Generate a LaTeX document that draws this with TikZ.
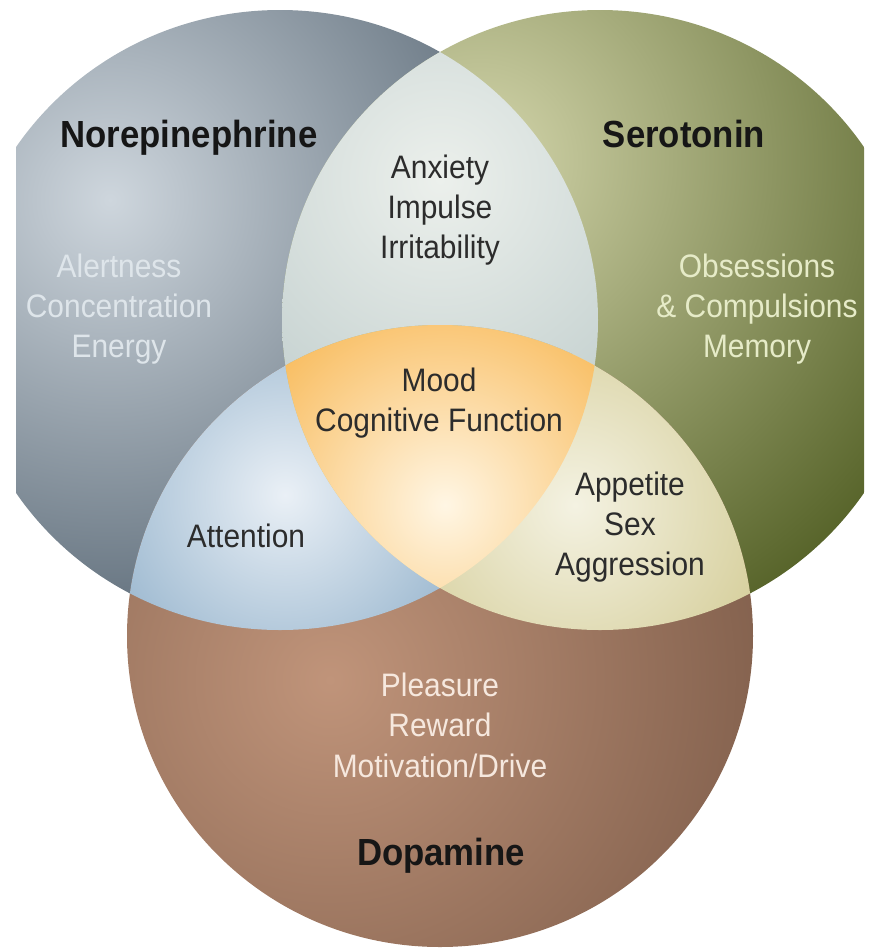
\documentclass[tikz,border=0pt]{standalone}
\usepackage{fontspec}
\setmainfont{Liberation Sans}[FakeStretch=0.92]
\usepackage{tikz}

\begin{document}
\begin{tikzpicture}[x=0.02cm,y=-0.02cm,
    	 every node/.style={align=center,font=\fontsize{18.5}{23}\selectfont},
    	 title node/.style={font=\fontsize{21.5}{26}\selectfont\bfseries,text=titleblack},
    	 dark node/.style={text=textgray},
    	 pale node/.style={text=#1}]

	\definecolor{titleblack}{RGB}{22,22,22}
	\definecolor{textgray}{RGB}{44,44,44}
	\definecolor{nlight}{RGB}{206,214,221}
	\definecolor{ndark}{RGB}{70,86,100}
	\definecolor{slight}{RGB}{212,214,172}
	\definecolor{sdark}{RGB}{72,86,26}
	\definecolor{dlight}{RGB}{192,148,122}
	\definecolor{ddark}{RGB}{118,86,68}
	\definecolor{nslight}{RGB}{236,240,236}
	\definecolor{nsdark}{RGB}{180,196,196}
	\definecolor{ndlight}{RGB}{234,240,246}
	\definecolor{nddark}{RGB}{108,150,184}
	\definecolor{sdlight}{RGB}{244,242,226}
	\definecolor{sddark}{RGB}{198,188,118}
	\definecolor{alllight}{RGB}{255,246,228}
	\definecolor{alldark}{RGB}{246,168,48}
	\definecolor{palegray}{RGB}{222,229,234}
	\definecolor{paleolive}{RGB}{230,235,200}
	\definecolor{palerose}{RGB}{246,232,222}

	\useasboundingbox (0,0) rectangle (872,951);
	\def\normap{(280,320) ellipse [x radius=318,y radius=310]}
	\def\seromap{(600,320) ellipse [x radius=318,y radius=310]}
	\def\dopamap{(440,636) ellipse [x radius=313,y radius=311]}

	\begin{scope}
	\clip (16,0) rectangle (864,951);
	% the three circles
	\begin{scope} \clip \normap;
		\shade[inner color=nlight,outer color=ndark] (110,200) circle (540); \end{scope}
	\begin{scope} \clip \seromap;
		\shade[inner color=slight,outer color=sdark] (480,160) circle (580); \end{scope}
	\begin{scope} \clip \dopamap;
		\shade[inner color=dlight,outer color=ddark] (330,680) circle (540); \end{scope}
	% overlaps
	\begin{scope} \clip \normap; \clip \seromap;
		\shade[inner color=nslight,outer color=nsdark] (440,180) circle (380); \end{scope}
	\begin{scope} \clip \normap; \clip \dopamap;
		\shade[inner color=ndlight,outer color=nddark] (285,495) circle (320); \end{scope}
	\begin{scope} \clip \seromap; \clip \dopamap;
		\shade[inner color=sdlight,outer color=sddark] (575,505) circle (320); \end{scope}
	\begin{scope} \clip \normap; \clip \seromap; \clip \dopamap;
		\shade[inner color=alllight,outer color=alldark] (445,505) circle (300); \end{scope}
	\end{scope}

	\draw (189,138) node[title node] (norepi) {Norepinephrine};
	\draw (684,134) node[title node] (seroto) {Serotonin};
	\draw (441,856) node[title node] (dopa) {Dopamine};

	\draw (119,309) node[pale node=palegray]  (alert) {Alertness\\Concentration\\Energy};
	\draw (757,309) node[pale node=paleolive] (obsess) {Obsessions\\\& Compulsions\\Memory};
	\draw (440,725) node[pale node=palerose]  (pleas) {Pleasure\\Reward\\Motivation/Drive};

	\draw (440,210) node[dark node] (anx) {Anxiety\\Impulse\\Irritability};
	\draw (439,403) node[dark node] (mood) {Mood\\Cognitive Function};
	\draw (246,536) node[dark node] (attn) {Attention};
	\draw (630,527) node[dark node] (appet) {Appetite\\Sex\\Aggression};

\end{tikzpicture}
\end{document}
